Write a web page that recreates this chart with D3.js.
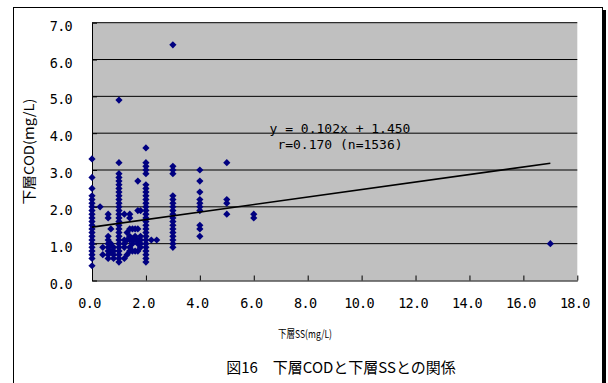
<!DOCTYPE html>
<html>
<head>
<meta charset="utf-8">
<script src="https://cdn.jsdelivr.net/npm/d3@7"></script>
<style>
body { margin: 0; background: #fff; }
.tick text { font-family: "DejaVu Sans Mono", monospace; font-size: 13.5px; letter-spacing: -0.7px; fill: #000; }
.jp { font-family: "Noto Sans CJK JP", sans-serif; fill: #000; }
.eq { font-family: "DejaVu Sans Mono", monospace; font-size: 13px; fill: #000; }
</style>
</head>
<body>
<script>
// 下層SS (mg/L) groups and the 下層COD (mg/L) values read at each SS
var ssGroups = [0, 0.3, 0.4, 0.6, 0.7, 0.8, 1.0, 1.2, 1.3, 1.4, 1.5, 1.6, 1.7, 1.8, 2.0, 2.2, 2.4, 3.0, 4.0, 5.0, 6.0, 17.0];
var codGroups = [
  [3.3, 2.8, 2.5, 2.3, 2.2, 2.1, 2.0, 1.9, 1.8, 1.7, 1.6, 1.5, 1.4, 1.3, 1.2, 1.1, 1.0, 0.9, 0.8, 0.7, 0.6, 0.4],
  [2.0],
  [0.9, 0.7],
  [1.8, 1.7, 1.2, 1.1, 1.0, 0.9, 0.8, 0.7, 0.6],
  [1.4, 1.0, 0.8],
  [0.9, 0.8, 0.7, 0.6],
  [4.9, 3.2, 2.9, 2.8, 2.7, 2.6, 2.5, 2.4, 2.3, 2.2, 2.1, 2.0, 1.9, 1.8, 1.7, 1.6, 1.5, 1.4, 1.3, 1.2, 1.1, 1.0, 0.9, 0.8, 0.7, 0.6, 0.5],
  [1.8, 1.1, 1.0, 0.9, 0.6],
  [1.3, 1.1, 0.7],
  [1.8, 1.7, 1.4, 1.2, 1.1, 0.9, 0.8],
  [1.4, 1.1, 1.0, 0.8],
  [1.4, 1.2, 1.1, 0.8],
  [2.7, 1.9, 1.4, 1.1, 1.0, 0.8],
  [1.9, 1.2, 1.1, 1.0, 0.9],
  [3.6, 3.2, 3.1, 3.0, 2.9, 2.6, 2.5, 2.4, 2.3, 2.2, 2.1, 2.0, 1.9, 1.8, 1.7, 1.6, 1.5, 1.4, 1.3, 1.2, 1.1, 1.0, 0.9, 0.8, 0.7, 0.6, 0.5],
  [1.1],
  [1.1],
  [6.4, 3.1, 3.0, 2.9, 2.3, 2.2, 2.1, 2.0, 1.9, 1.8, 1.7, 1.6, 1.5, 1.4, 1.3, 1.2, 1.1, 1.0, 0.9],
  [3.0, 2.7, 2.4, 2.2, 2.1, 2.0, 1.9, 1.5, 1.4, 1.2],
  [3.2, 2.2, 2.1, 1.8],
  [1.8, 1.7],
  [1.0]
];
var xTicks = [0, 2, 4, 6, 8, 10, 12, 14, 16, 18];
var yTicks = [0, 1, 2, 3, 4, 5, 6, 7];
var slope = 0.102, intercept = 1.450;
var eqText = "y = 0.102x + 1.450",
    rText = "r=0.170 (n=1536)";
var xTitle = "下層SS(mg/L)",
    yTitle = "下層COD(mg/L)",
    caption = "図16　下層CODと下層SSとの関係";

var points = [];
ssGroups.forEach(function(s, i) {
  codGroups[i].forEach(function(c) { points.push({ss: s, cod: c}); });
});

var W = 608, H = 383;
var margin = {top: 22.7, left: 92, right: 30.7, bottom: 102.5},
    width = W - margin.left - margin.right,
    height = H - margin.top - margin.bottom;

var svg = d3.select("body").append("svg")
    .attr("width", W)
    .attr("height", H);

// chart frame with shadow on the right
svg.append("rect")
    .attr("x", 603).attr("y", 10)
    .attr("width", 3).attr("height", 380)
    .attr("fill", "#000");
svg.append("rect")
    .attr("x", 13.5).attr("y", 7.5)
    .attr("width", 589).attr("height", 380)
    .attr("fill", "#fff")
    .attr("stroke", "#000");

var x = d3.scaleLinear().domain([0, 18]).range([0, width]);
var y = d3.scaleLinear().domain([0, 7]).range([height, 0]);

var g = svg.append("g")
    .attr("transform", "translate(" + margin.left + "," + margin.top + ")");

g.append("rect")
    .attr("width", width)
    .attr("height", height)
    .attr("fill", "#c0c0c0");

// horizontal gridlines
g.append("g")
    .selectAll("line")
    .data(yTicks.filter(function(d) { return d > 0; }))
    .join("line")
    .attr("x1", 0).attr("x2", width)
    .attr("y1", function(d) { return y(d); })
    .attr("y2", function(d) { return y(d); })
    .attr("stroke", "#000")
    .attr("stroke-width", 1);

var xAxis = g.append("g")
    .attr("transform", "translate(0," + height + ")")
    .call(d3.axisBottom(x)
        .tickValues(xTicks)
        .tickSizeInner(-5)
        .tickSizeOuter(0)
        .tickFormat(d3.format(".1f")));
xAxis.select(".domain").attr("stroke", "#000");
xAxis.selectAll("line").attr("stroke", "#000");
xAxis.selectAll("text")
    .attr("y", 27)
    .attr("dy", null)
    .attr("x", -3);

var yAxis = g.append("g")
    .call(d3.axisLeft(y)
        .tickValues(yTicks)
        .tickSizeInner(-5)
        .tickSizeOuter(0)
        .tickFormat(d3.format(".1f")));
yAxis.select(".domain").attr("stroke", "#000");
yAxis.selectAll("line").attr("stroke", "#000");
yAxis.selectAll("text")
    .attr("x", -20)
    .attr("dy", 7.5);

// markers
g.append("g")
    .selectAll("path")
    .data(points)
    .join("path")
    .attr("d", "M0,-3.6L3.6,0L0,3.6L-3.6,0Z")
    .attr("transform", function(d) { return "translate(" + x(d.ss) + "," + y(d.cod) + ")"; })
    .attr("fill", "#000080");

// linear trend
var ext = d3.extent(points, function(d) { return d.ss; });
g.append("path")
    .datum(ext)
    .attr("d", d3.line()
        .x(function(d) { return x(d); })
        .y(function(d) { return y(slope * d + intercept); }))
    .attr("stroke", "#000")
    .attr("stroke-width", 1.6)
    .attr("fill", "none");

g.append("text").attr("class", "eq")
    .attr("x", 248).attr("y", 110)
    .attr("text-anchor", "middle")
    .text(eqText);
g.append("text").attr("class", "eq")
    .attr("x", 248).attr("y", 126)
    .attr("text-anchor", "middle")
    .text(rText);

// titles
svg.append("text").attr("class", "jp")
    .attr("x", 305).attr("y", 338)
    .attr("text-anchor", "middle")
    .attr("textLength", 54)
    .attr("lengthAdjust", "spacingAndGlyphs")
    .style("font-size", "11px")
    .text(xTitle);
svg.append("text").attr("class", "jp")
    .attr("transform", "translate(34,151.5) rotate(-90)")
    .attr("text-anchor", "middle")
    .attr("textLength", 106)
    .attr("lengthAdjust", "spacingAndGlyphs")
    .style("font-size", "13.5px")
    .text(yTitle);
svg.append("text").attr("class", "jp")
    .attr("x", 341).attr("y", 373)
    .attr("text-anchor", "middle")
    .style("font-size", "15px")
    .text(caption);
</script>
</body>
</html>
